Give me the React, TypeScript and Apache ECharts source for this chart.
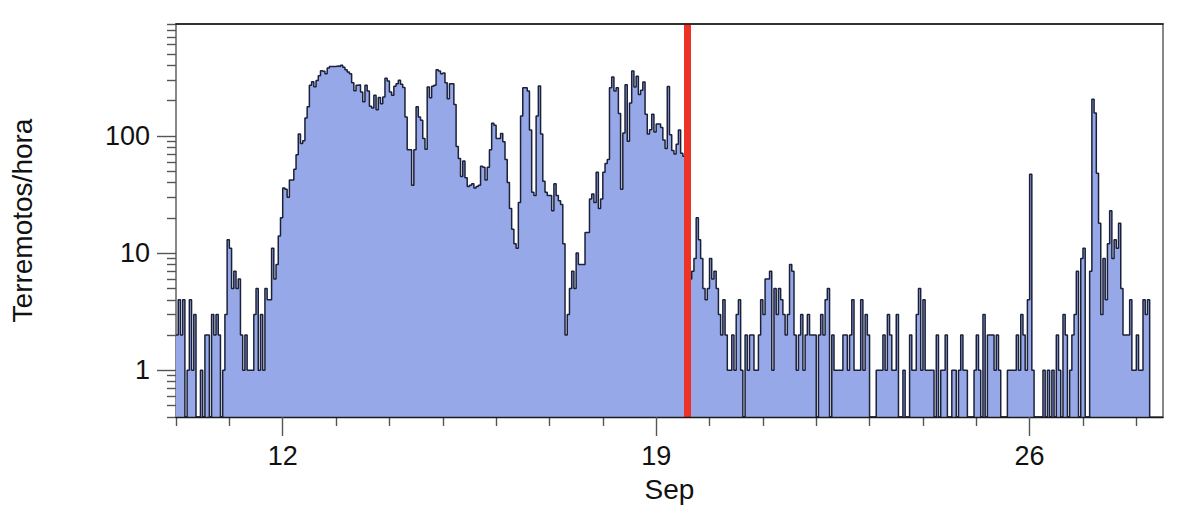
import React, { useEffect, useRef } from 'react';
import * as echarts from 'echarts';

// earthquakes per hour, starting Sep 10 00:00 (0 = nothing that hour)
const hourlyCounts = [
  2, 4, 2, 4, 0, 1, 4, 1, 3, 0, 0, 1, 0, 2, 2, 0, 3, 2, 3, 2, 0, 1, 3,
  13, 11, 5, 7, 5, 6, 2, 1, 2, 1, 1, 1, 3, 5, 1, 3, 1, 5, 4, 4, 11, 6, 8, 14, 20,
  36, 35, 30, 42, 42, 52, 69, 104, 86, 91, 142, 177, 270, 290, 263, 296, 325, 360, 355, 338, 380, 390,
  391, 391, 395, 391, 400, 385, 366, 350, 338, 284, 243, 270, 273, 237, 195, 270, 241, 179, 173, 222,
  167, 212, 188, 215, 310, 294, 237, 222, 265, 279, 298, 275, 258, 145, 76, 76, 38, 76, 177, 145,
  136, 95, 77, 261, 211, 265, 270, 366, 357, 338, 343, 284, 207, 279, 279, 185, 81, 64, 45, 61,
  44, 37, 38, 39, 36, 37, 38, 55, 54, 42, 54, 76, 128, 123, 95, 95, 105, 89, 63, 40,
  24, 16, 12, 11, 27, 148, 257, 257, 241, 112, 33, 31, 148, 266, 104, 41, 33, 31, 31, 23,
  39, 31, 28, 26, 12, 2, 3, 5, 7, 5, 10, 8, 8, 8, 15, 15, 29, 32, 27, 49,
  24, 29, 49, 58, 63, 257, 318, 241, 257, 155, 35, 106, 273, 90, 191, 357, 261, 322, 225, 245,
  288, 153, 104, 113, 153, 108, 126, 126, 118, 92, 78, 264, 102, 75, 70, 85, 112, 71, 67, 65,
  60, 6, 7, 9, 20, 13, 9, 5, 4, 5, 9, 6, 7, 5, 3, 2, 4, 2, 1, 1,
  2, 1, 3, 4, 1, 0, 2, 1, 2, 2, 1, 1, 2, 4, 3, 6, 6, 7, 1, 5,
  3, 5, 4, 3, 2, 3, 8, 7, 2, 1, 2, 3, 1, 2, 3, 2, 2, 2, 0, 2,
  3, 2, 4, 5, 0, 2, 1, 1, 1, 1, 2, 2, 1, 2, 4, 1, 1, 1, 4, 1,
  3, 2, 0, 0, 0, 1, 1, 1, 2, 1, 3, 2, 1, 1, 3, 0, 0, 1, 0, 0,
  2, 1, 1, 3, 5, 1, 4, 1, 1, 1, 1, 0, 2, 0, 1, 1, 2, 0, 0, 1,
  1, 0, 1, 2, 1, 1, 0, 0, 0, 1, 2, 1, 0, 3, 0, 2, 2, 2, 1, 2,
  1, 0, 0, 0, 1, 1, 1, 1, 2, 1, 3, 2, 1, 4, 47, 1, 0, 0, 0, 0,
  1, 0, 1, 0, 1, 0, 2, 1, 0, 3, 2, 0, 1, 2, 3, 7, 0, 9, 11, 0,
  0, 7, 205, 157, 48, 18, 3, 9, 4, 12, 23, 9, 13, 11, 18, 5, 2, 2, 2, 4,
  1, 1, 2, 1, 1, 4, 3, 4,
];

const xMajorTicks = [48, 216, 384];
const xMinorTicks = [0, 24, 72, 96, 120, 144, 168, 192, 240, 264, 288, 312, 336, 360, 408, 432];
const xLabels: Record<number, string> = { 48: '12', 216: '19', 384: '26' };
const yMajorTicks = [1, 10, 100];
const yMinorTicks = [0.4, 0.5, 0.6, 0.7, 0.8, 0.9, 2, 3, 4, 5, 6, 7, 8, 9, 20, 30, 40, 50, 60, 70, 80, 90, 200, 300, 400, 500, 600, 700, 800, 900];
const quakeHour = 230;

const Y_MIN = 0.4;
const Y_MAX = 900;
const X_MAX = 444;
const FONT = '"Liberation Sans", Arial, sans-serif';
const AXIS_COLOR = '#555';
const DARK_LINE = '#1a1a1a';

export default function App() {
  const chartRef = useRef<HTMLDivElement>(null);

  useEffect(() => {
    if (!chartRef.current) return;

    const chart = echarts.init(chartRef.current, undefined, { renderer: 'svg' });

    // log axis can't take 0, empty hours sit on the bottom of the axis
    const stepData = hourlyCounts.map((v, i) => [i, v > 0 ? v : Y_MIN]);
    stepData.push([hourlyCounts.length, Y_MIN]);

    const xBase = { type: 'value', min: 0, max: X_MAX, splitLine: { show: false }, axisLine: { show: false } };
    const yBase = { type: 'log', logBase: 10, min: Y_MIN, max: Y_MAX, splitLine: { show: false }, axisLine: { show: false } };
    const tick = (customValues: number[], length: number) => ({
      show: true,
      customValues,
      length,
      lineStyle: { color: AXIS_COLOR, width: 1.4 },
    });

    chart.setOption({
      animation: false,
      backgroundColor: '#fff',
      grid: {
        left: 176,
        top: 24,
        width: 987,
        height: 393,
        show: true,
        borderColor: AXIS_COLOR,
        borderWidth: 1.4,
      },
      xAxis: [
        {
          ...xBase,
          z: 10,
          axisLine: { show: true, onZero: false, lineStyle: { color: DARK_LINE, width: 1.4 } },
          axisTick: tick(xMajorTicks, 19),
          axisLabel: {
            customValues: xMajorTicks,
            formatter: (v: number) => xLabels[v] ?? '',
            fontFamily: FONT,
            fontSize: 27,
            color: '#111',
            margin: 25,
          },
          name: 'Sep',
          nameLocation: 'middle',
          nameGap: 58,
          nameTextStyle: { fontFamily: FONT, fontSize: 28, color: '#111' },
        },
        {
          ...xBase,
          position: 'bottom',
          axisTick: tick(xMinorTicks, 9),
          axisLabel: { show: false },
        },
        {
          // top edge sits over the red line
          ...xBase,
          position: 'top',
          z: 10,
          axisLine: { show: true, onZero: false, lineStyle: { color: DARK_LINE, width: 1.6 } },
          axisTick: { show: false },
          axisLabel: { show: false },
        },
      ],
      yAxis: [
        {
          ...yBase,
          axisTick: tick(yMajorTicks, 19),
          axisLabel: {
            customValues: yMajorTicks,
            formatter: (v: number) => String(Math.round(v)),
            fontFamily: FONT,
            fontSize: 27,
            color: '#111',
            margin: 26,
          },
          name: 'Terremotos/hora',
          nameLocation: 'middle',
          nameGap: 140,
          nameTextStyle: { fontFamily: FONT, fontSize: 28, color: '#111' },
        },
        {
          ...yBase,
          position: 'left',
          axisTick: tick(yMinorTicks, 9),
          axisLabel: { show: false },
        },
      ],
      series: [
        {
          type: 'line',
          step: 'end',
          data: stepData,
          showSymbol: false,
          lineStyle: { color: '#1b2138', width: 1.5 },
          areaStyle: { color: '#97a8e9', opacity: 1, origin: 'start' },
          markLine: {
            silent: true,
            symbol: 'none',
            label: { show: false },
            lineStyle: { color: '#ec3326', width: 7, type: 'solid' },
            data: [{ xAxis: quakeHour }],
          },
        },
      ],
    });

    return () => {
      chart.dispose();
    };
  }, []);

  return <div ref={chartRef} style={{ position: 'absolute', left: 0, top: 0, width: 1200, height: 514 }} />;
}
